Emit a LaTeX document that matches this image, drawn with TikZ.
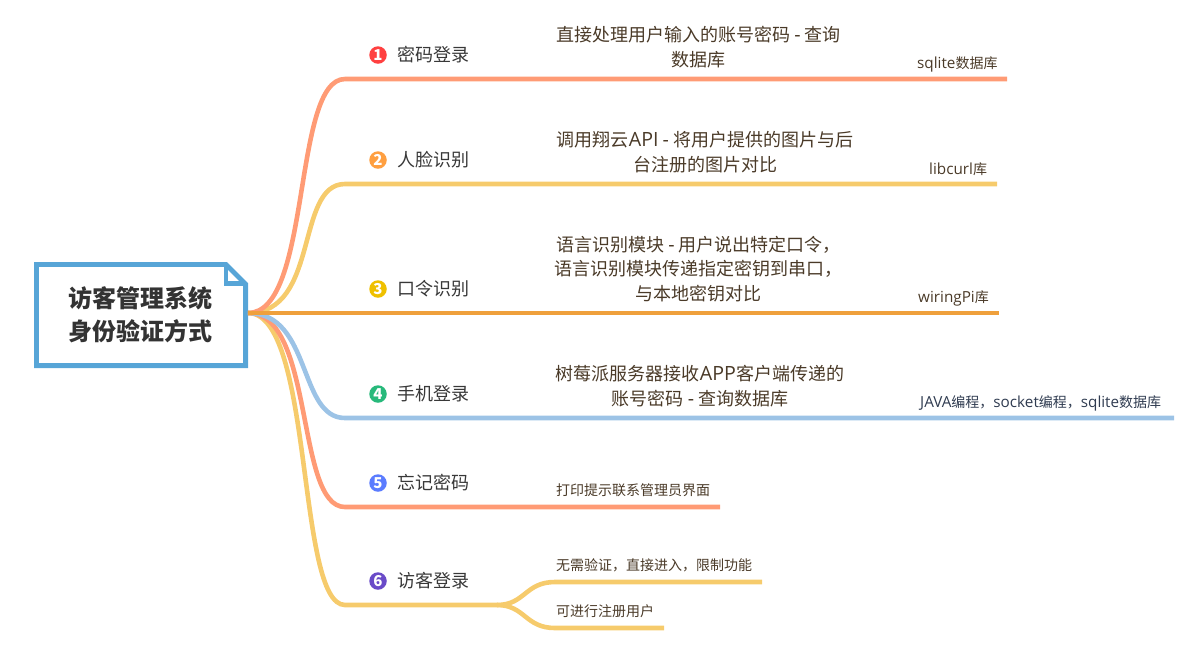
\documentclass[tikz,border=0pt]{standalone}
\usepackage{fontspec}
\usepackage{xcolor}
\usetikzlibrary{positioning}
\setmainfont{Noto Sans CJK SC}
\newfontfamily\latfont[Scale=1.09]{Open Sans}
\newcommand{\lat}[1]{{\latfont #1}}
\definecolor{rootblue}{HTML}{57A5D7}
\definecolor{salmon}{HTML}{FF9B75}
\definecolor{sand}{HTML}{F6CB6C}
\definecolor{amber}{HTML}{EFA03C}
\definecolor{skyblue}{HTML}{9CC3E6}
\definecolor{deskbrown}{HTML}{4A3A28}
\definecolor{desknavy}{HTML}{2F3B50}
\tikzset{
	root node/.style={minimum width=214pt,minimum height=106pt,inner sep=0pt,outer sep=0pt,align=center,
		text=black!80,font=\fontsize{24}{32.5}\selectfont\bfseries},
	mark node/.style={circle,inner sep=0pt,minimum size=17.5pt,text=white,font=\fontsize{15}{15}\selectfont\bfseries},
	title node/.style={inner sep=0pt,text=black!78,font=\fontsize{18}{18}\selectfont},
	desc node/.style={inner sep=0pt,align=center,text=deskbrown,font=\fontsize{18}{24.5}\selectfont},
	note node/.style={inner sep=0pt,anchor=west,text=deskbrown,font=\fontsize{14}{16}\selectfont},
	branch/.style={line width=4.6pt,line join=round}
}
\begin{document}
\begin{tikzpicture}[x=1pt,y=-1pt]
	\useasboundingbox (0,0) rectangle (1196,657);
	\node [root node] (root) at (141,315) {\hspace{-2pt}访客管理系统\\\hspace{-2pt}身份验证方式};
	\coordinate (hub) at ([yshift=2pt]root.east);
	% the folded sheet round the root
	\draw [rootblue,line width=4.8pt,miter limit=4] (36.4,264.4) -- (226,264.4) -- (245.6,284) -- (245.6,365.6) -- (36.4,365.6) -- cycle;
	\draw [rootblue,line width=4.2pt] (226,264.4) -- (226,283.5) -- (245.6,283.5);
	% branches, drawn bottom to top
	\coordinate (e1) at (1007,79);
	\coordinate (e2) at (997,184);
	\coordinate (e3) at (999,313);
	\coordinate (e4) at (1174,418);
	\coordinate (e5) at (720,507);
	\coordinate (e6) at (497,605);
	\coordinate (e61) at (762,582);
	\coordinate (e62) at (664,628);
	\draw [branch,sand] (hub) .. controls (314,313) and (296,605) .. (345,605) -- (e6);
	\draw [branch,sand] (e6) .. controls (525,605) and (525,582) .. (555,582) -- (e61);
	\draw [branch,sand] (e6) .. controls (525,605) and (525,628) .. (555,628) -- (e62);
	\draw [branch,salmon] (hub) .. controls (315,313) and (295,507) .. (345,507) -- (e5);
	\draw [branch,skyblue] (hub) .. controls (312,313) and (298,418) .. (345,418) -- (e4);
	\draw [branch,sand] (hub) .. controls (320,313) and (295,184) .. (345,184) -- (e2);
	\draw [branch,salmon] (hub) .. controls (312,313) and (292,79) .. (345,79) -- (e1);
	\draw [branch,amber] (hub) -- (e3);
	% numbered marks with their titles
	\node [mark node,fill=red!75!white] (1) at (378,55) {1};
	\node [mark node,fill=orange!75!white] (2) at (378,160) {2};
	\node [mark node,fill={rgb,255:red,239;green,192;blue,0}] (3) at (378,289) {3};
	\node [mark node,fill={rgb,255:red,39;green,185;blue,123}] (4) at (378,394) {4};
	\node [mark node,fill={rgb,255:red,91;green,124;blue,255}] (5) at (378,483) {5};
	\node [mark node,fill={rgb,255:red,106;green,75;blue,200}] (6) at (378,581) {6};
	\node [title node,right=10pt of 1] (t1) {密码登录};
	\node [title node,right=10pt of 2] (t2) {人脸识别};
	\node [title node,right=10pt of 3] (t3) {口令识别};
	\node [title node,right=10pt of 4] (t4) {手机登录};
	\node [title node,right=10pt of 5] (t5) {忘记密码};
	\node [title node,right=10pt of 6] (t6) {访客登录};
	% what each way does
	\node [desc node] (d1) at (698.5,47) {直接处理用户输入的账号密码 \lat{-} 查询\\数据库};
	\node [desc node] (d2) at (705,152) {调用翔云\lat{API} \lat{-} 将用户提供的图片与后\\台注册的图片对比};
	\node [desc node] (d3) at (698.5,269) {语言识别模块 \lat{-} 用户说出特定口令，\\语言识别模块传递指定密钥到串口，\\与本地密钥对比};
	\node [desc node] (d4) at (700,386) {树莓派服务器接收\lat{APP}客户端传递的\\账号密码 \lat{-} 查询数据库};
	\node [note node] (n1) at (917,64) {\lat{sqlite}数据库};
	\node [note node] (n2) at (929,169) {\lat{libcurl}库};
	\node [note node] (n3) at (918,298) {\lat{wiringPi}库};
	\node [note node,text=desknavy] (n4) at (920,403) {\lat{JAVA}编程，\lat{socket}编程，\lat{sqlite}数据库};
	\node [note node] (n5) at (556,490) {打印提示联系管理员界面};
	\node [note node] (n61) at (556,565) {无需验证，直接进入，限制功能};
	\node [note node] (n62) at (556,611) {可进行注册用户};
\end{tikzpicture}
\end{document}
